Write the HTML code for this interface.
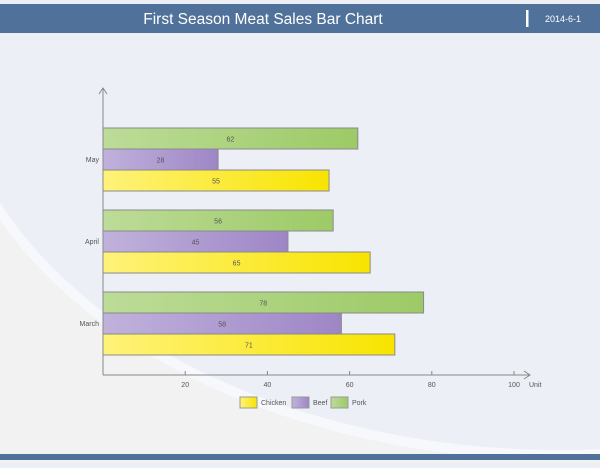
<!DOCTYPE html>
<html><head><meta charset="utf-8"><style>
body{margin:0;width:600px;height:463px;overflow:hidden;background:#eceff6;font-family:"Liberation Sans",sans-serif}
</style></head><body>
<svg width="600" height="463" xmlns="http://www.w3.org/2000/svg" id="svg">
<defs>
<linearGradient id="gC" x1="0" x2="1"><stop offset="0" stop-color="#fff27a"/><stop offset="1" stop-color="#f8e400"/></linearGradient>
<linearGradient id="gB" x1="0" x2="1"><stop offset="0" stop-color="#c0b2dc"/><stop offset="1" stop-color="#9e86c6"/></linearGradient>
<linearGradient id="gP" x1="0" x2="1"><stop offset="0" stop-color="#bcdc98"/><stop offset="1" stop-color="#9dca66"/></linearGradient>
</defs>
<rect width="600" height="463" fill="#f2f2f3"/>
<ellipse cx="560" cy="40" rx="620" ry="420" fill="#f7f8fb"/>
<ellipse cx="560" cy="40" rx="610" ry="410" fill="#eceff6"/>
<rect x="0" y="0" width="600" height="4" fill="#eceff6"/>
<rect x="0" y="4" width="600" height="29" fill="#50729a"/>
<text x="263" y="24" font-size="15.5" fill="#fff" text-anchor="middle">First Season Meat Sales Bar Chart</text>
<rect x="526" y="10" width="2.5" height="17" fill="#fff"/>
<text x="563" y="22" font-size="9" fill="#fff" text-anchor="middle">2014-6-1</text>
<rect x="0" y="454" width="600" height="6" fill="#50729a"/>
<g id="plot"></g>
</svg>
<script>
const categories=["May","April","March"];
const chicken=[55,65,71];
const beef=[28,45,58];
const pork=[62,56,78];
const ticks=[20,40,60,80,100];
const seriesNames=["Pork","Beef","Chicken"];
const ns="http://www.w3.org/2000/svg";
const g=document.getElementById("plot");
const x0=103,xs=4.11,axisY=375;
const X=v=>x0+v*xs;
const groupTop=[128,210,292];
function mk(t,a,txt){const e=document.createElementNS(ns,t);for(const k in a)e.setAttribute(k,a[k]);if(txt!=null)e.textContent=txt;g.appendChild(e);return e;}
let e=mk("line",{x1:x0,y1:88,x2:x0,y2:axisY,stroke:"#888"});


e=mk("path",{d:"M99 94 L103 88 L107 94",fill:"none",stroke:"#888"});


e=mk("line",{x1:x0,y1:axisY,x2:530,y2:axisY,stroke:"#888"});


e=mk("path",{d:"M524 371 L530 375 L524 379",fill:"none",stroke:"#888"});


ticks.forEach(t=>{
 e=mk("line",{x1:X(t),y1:axisY-4,x2:X(t),y2:axisY,stroke:"#888"});
 
 
 e=mk("text",{x:X(t),y:axisY+12,"font-size":7,fill:"#555","text-anchor":"middle"},t);
 
 
});
e=mk("text",{x:529,y:axisY+12,"font-size":7,fill:"#555"},"Unit");


const fills=["url(#gP)","url(#gB)","url(#gC)"];
categories.forEach((c,i)=>{
 const vals=[pork[i],beef[i],chicken[i]];
 vals.forEach((v,j)=>{
  const y=groupTop[i]+j*21;
  e=mk("rect",{x:x0,y:y,width:v*xs,height:21,fill:fills[j],stroke:"#8a8a8a","stroke-width":1});
  
  
  e=mk("text",{x:x0+v*xs/2,y:y+13.5,"font-size":7,fill:"#555","text-anchor":"middle"},v);
  
  
 });
 e=mk("text",{x:99,y:groupTop[i]+34,"font-size":7,fill:"#555","text-anchor":"end"},c);
 
 
});
const leg=[["Chicken","url(#gC)",240],["Beef","url(#gB)",292],["Pork","url(#gP)",331]];
leg.forEach(l=>{
 e=mk("rect",{x:l[2],y:397,width:17,height:11,fill:l[1],stroke:"#999"});
 
 
 e=mk("text",{x:l[2]+21,y:405,"font-size":7,fill:"#555"},l[0]);
 
 
});
</script>
</body></html>
